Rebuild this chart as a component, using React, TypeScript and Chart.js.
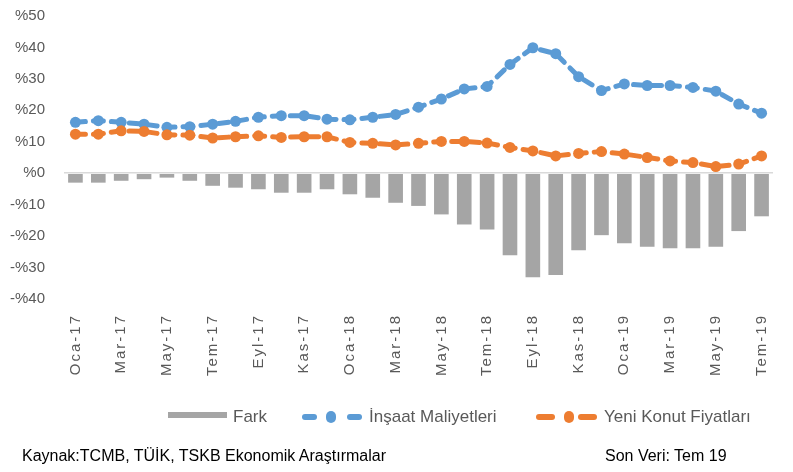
import React, { useEffect, useRef } from "react";
import { Chart, registerables } from "chart.js";

Chart.register(...registerables);

const months = ["Oca", "Şub", "Mar", "Nis", "May", "Haz", "Tem", "Ağu", "Eyl", "Eki", "Kas", "Ara"];
const categories: string[] = [];
for (const yr of ["17", "18", "19"]) {
  for (const m of months) categories.push(`${m}-${yr}`);
}
const labels = categories.slice(0, 31);

const fark = [
  -3.0, -3.0, -2.4, -1.9, -1.4, -2.4, -4.0, -4.6, -5.1, -6.2, -6.2, -5.1,
  -6.7, -7.8, -9.4, -10.4, -13.1, -16.3, -17.9, -26.1, -33.1, -32.4, -24.5, -19.7,
  -22.3, -23.4, -23.9, -23.9, -23.4, -18.4, -13.7,
];
const insaat = [
  16.2, 16.7, 16.2, 15.6, 14.6, 14.8, 15.6, 16.5, 17.8, 18.3, 18.3, 17.2,
  17.0, 17.8, 18.7, 21.0, 23.6, 26.8, 27.6, 34.6, 39.9, 38.0, 30.7, 26.3,
  28.4, 27.9, 27.9, 27.3, 26.1, 22.0, 19.1,
];
const yeniKonut = [
  12.4, 12.4, 13.5, 13.3, 12.2, 12.1, 11.2, 11.6, 11.9, 11.4, 11.6, 11.6,
  9.8, 9.5, 9.0, 9.5, 10.1, 10.1, 9.6, 8.2, 7.1, 5.5, 6.3, 6.9,
  6.1, 5.0, 3.9, 3.4, 2.1, 2.9, 5.5,
];
const yTicks = [50, 40, 30, 20, 10, 0, -10, -20, -30, -40];

const GRAY = "#a5a5a5";
const BLUE = "#5b9bd5";
const ORANGE = "#ed7d31";
const TEXT = "#595959";
const FONT = "'Liberation Sans', Arial, sans-serif";

const letterSpacingPlugin = {
  id: "xLetterSpacing",
  beforeDraw(chart: any) {
    const sc = chart.scales.x;
    if (sc && !sc.__patched) {
      const orig = sc.drawLabels.bind(sc);
      sc.drawLabels = (area: any) => {
        const ctx = chart.ctx;
        ctx.save();
        (ctx as any).letterSpacing = "2px";
        orig(area);
        ctx.restore();
      };
      sc.__patched = true;
    }
  },
};

export default function App() {
  const ref = useRef<HTMLCanvasElement | null>(null);
  useEffect(() => {
    if (!ref.current) return;
    const chart = new Chart(ref.current, {
      type: "bar",
      data: {
        labels,
        datasets: [
          {
            type: "bar",
            label: "Fark",
            data: fark,
            backgroundColor: GRAY,
            categoryPercentage: 1,
            barPercentage: 0.64,
            order: 3,
          },
          {
            type: "line",
            label: "İnşaat Maliyetleri",
            data: insaat,
            borderColor: BLUE,
            backgroundColor: BLUE,
            borderWidth: 5,
            borderDash: [10, 8],
            borderCapStyle: "round",
            pointRadius: 5.5,
            pointBorderWidth: 0,
            pointBackgroundColor: BLUE,
            tension: 0,
            order: 2,
          },
          {
            type: "line",
            label: "Yeni Konut Fiyatları",
            data: yeniKonut,
            borderColor: ORANGE,
            backgroundColor: ORANGE,
            borderWidth: 5,
            borderDash: [10, 8],
            borderCapStyle: "round",
            pointRadius: 5.5,
            pointBorderWidth: 0,
            pointBackgroundColor: ORANGE,
            tension: 0,
            order: 1,
          },
        ] as any,
      },
      options: {
        animation: false,
        responsive: false,
        maintainAspectRatio: false,
        layout: { padding: { left: 0, right: 20, top: 16, bottom: 73 } },
        plugins: {
          legend: { display: false },
          tooltip: { enabled: false },
        },
        scales: {
          x: {
            grid: { display: false, drawTicks: false },
            border: { display: false },
            ticks: {
              autoSkip: false,
              minRotation: 90,
              maxRotation: 90,
              padding: 15,
              color: TEXT,
              font: { family: FONT, size: 15 },
              callback: (_v: any, i: number) => (i % 2 === 0 ? labels[i] : ""),
            },
            afterFit: (s: any) => {
              s.height = 100;
              s.paddingLeft = 0;
              s.paddingRight = 0;
            },
          },
          y: {
            min: -40,
            max: 50,
            afterBuildTicks: (s: any) => {
              s.ticks = yTicks.map((v) => ({ value: v }));
            },
            grid: {
              drawTicks: false,
              color: (c: any) => (c.tick && c.tick.value === 0 ? "#d9d9d9" : "rgba(0,0,0,0)"),
              lineWidth: 1.5,
            },
            border: { display: false },
            ticks: {
              padding: 19,
              color: TEXT,
              font: { family: FONT, size: 15 },
              callback: (v: any) => (v < 0 ? `-%${Math.abs(v)}` : `%${v}`),
            },
            afterFit: (s: any) => {
              s.width = 64;
              s.paddingTop = 0;
              s.paddingBottom = 0;
            },
          },
        },
      },
      plugins: [letterSpacingPlugin],
    });
    return () => chart.destroy();
  }, []);

  const legendText: React.CSSProperties = {
    position: "absolute",
    top: 406,
    fontFamily: FONT,
    fontSize: 17,
    color: TEXT,
    lineHeight: "22px",
    whiteSpace: "nowrap",
  };
  const dash = (left: number, width: number, color: string): React.CSSProperties => ({
    position: "absolute",
    left,
    top: 414,
    width,
    height: 6,
    borderRadius: 3,
    background: color,
  });
  const dot = (left: number, color: string): React.CSSProperties => ({
    position: "absolute",
    left,
    top: 411,
    width: 10,
    height: 12,
    borderRadius: 6,
    background: color,
  });
  const footer: React.CSSProperties = {
    position: "absolute",
    top: 445,
    fontFamily: FONT,
    fontSize: 16,
    color: "#000",
    lineHeight: "22px",
    whiteSpace: "nowrap",
  };

  return (
    <div style={{ position: "fixed", left: 0, top: 0, width: 793, height: 472, background: "#fff", overflow: "hidden" }}>
      <canvas ref={ref} width={793} height={472} style={{ position: "absolute", left: 0, top: 0, width: 793, height: 472 }} />
      <div style={{ position: "absolute", left: 168, top: 412, width: 59, height: 6, background: GRAY }} />
      <div style={{ ...legendText, left: 233 }}>Fark</div>
      <div style={dash(302, 15, BLUE)} />
      <div style={dot(326, BLUE)} />
      <div style={dash(347, 15, BLUE)} />
      <div style={{ ...legendText, left: 369 }}>İnşaat Maliyetleri</div>
      <div style={dash(536, 19, ORANGE)} />
      <div style={dot(564, ORANGE)} />
      <div style={dash(578, 19, ORANGE)} />
      <div style={{ ...legendText, left: 604 }}>Yeni Konut Fiyatları</div>
      <div style={{ ...footer, left: 22 }}>Kaynak:TCMB, TÜİK, TSKB Ekonomik Araştırmalar</div>
      <div style={{ ...footer, left: 605 }}>Son Veri: Tem 19</div>
    </div>
  );
}
